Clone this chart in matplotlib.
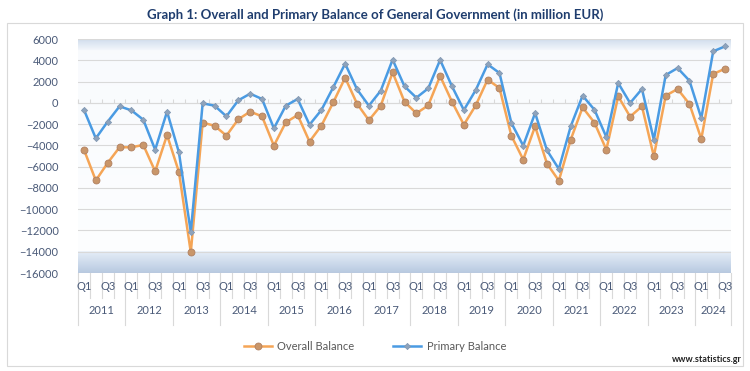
import numpy as np
import matplotlib
matplotlib.use("Agg")
import matplotlib.pyplot as plt
from matplotlib.lines import Line2D
from matplotlib.patches import Rectangle
import matplotlib.transforms as mtransforms

years = ["2011", "2012", "2013", "2014", "2015", "2016", "2017",
         "2018", "2019", "2020", "2021", "2022", "2023", "2024"]
quarters_per_year = [4, 4, 4, 4, 4, 4, 4, 4, 4, 4, 4, 4, 4, 3]
quarter_labels = ["Q1", "", "Q3", ""]

overall = [-4400, -7300, -5650, -4180, -4180, -3960, -6450, -3030,
           -6500, -14050, -1870, -2150, -3090, -1550, -830, -1270,
           -4030, -1840, -1150, -3650, -2150, 40, 2360, -80,
           -1640, -270, 2860, 100, -990, -240, 2520, 100,
           -2060, -240, 2180, 1390, -3090, -5340, -2210, -5720,
           -7320, -3460, -430, -1870, -4410, 610, -1300, -330,
           -5030, 670, 1300, -110, -3390, 2710, 3210]
primary = [-650, -3340, -1770, -330, -710, -1590, -4410, -830,
           -4660, -12150, -50, -270, -1270, 230, 860, 360,
           -2400, -270, 360, -2060, -680, 1460, 3680, 1270,
           -270, 1140, 4060, 1550, 480, 1360, 4030, 1550,
           -680, 1200, 3620, 2800, -1890, -4030, -960, -4460,
           -6220, -2210, 670, -650, -3220, 1860, -20, 1300,
           -3470, 2610, 3270, 2080, -1440, 4840, 5310]

W, H = 750, 371
fig = plt.figure(figsize=(W / 100, H / 100), dpi=100)
plt.rcParams['font.family'] = ['Lato', 'DejaVu Sans']

# outer frame
fig.patches.append(Rectangle((7 / W, 1 - 366 / H), 736 / W, 343 / H,
                             transform=fig.transFigure, fill=False,
                             edgecolor="#D9D9D9", linewidth=0.8))

L, R, T, B = 78, 731, 39, 273
ax = fig.add_axes([L / W, 1 - B / H, (R - L) / W, (B - T) / H])

n = len(overall)
x = np.arange(n)
ax.set_xlim(-0.5, n - 0.5)
ax.set_ylim(-16000, 6000)

# background gradient (wall)
ys = np.linspace(0, 1, 400)
def lerp(c1, c2, t):
    return np.array(c1) * (1 - t) + np.array(c2) * t
base = np.array([0.975, 0.982, 0.992])
img = np.zeros((400, 2, 3))
for i, yy in enumerate(ys):
    if yy < 2 / 22:
        t = yy / (2 / 22)
        c = lerp([0.72, 0.79, 0.88], [0.90, 0.93, 0.97], t)
    elif yy > 21 / 22:
        t = (yy - 21 / 22) / (1 / 22)
        c = lerp([0.95, 0.965, 0.985], [0.82, 0.87, 0.93], t)
    else:
        t = (yy - 2 / 22) / (19 / 22)
        c = lerp([0.99, 0.995, 1.0], base, t)
    img[i, :, :] = c
ax.imshow(img, extent=[0, 1, 0, 1], transform=ax.transAxes, origin="lower",
          aspect="auto", zorder=0, interpolation="bilinear")

ax.set_yticks(np.arange(-16000, 6001, 2000))
ax.yaxis.grid(True, color="#D9D9D9", linewidth=0.8, zorder=1)
ax.set_axisbelow(True)
ax.tick_params(axis="y", length=0, pad=14, labelsize=8, labelcolor="#4A5A78")
for s in ["left", "right", "top"]:
    ax.spines[s].set_visible(False)
ax.spines["bottom"].set_position(("data", 0))
ax.spines["bottom"].set_color("#D9D9D9")
ax.spines["bottom"].set_linewidth(0.8)
ax.set_xticks(np.arange(-0.5, n, 1.0))
ax.set_xticklabels([])
ax.tick_params(axis="x", direction="in", length=3, color="#D9D9D9", width=0.8)

ax.plot(x, overall, color="#F5A556", linewidth=1.8, marker="o", markersize=5,
        markerfacecolor="#C9966A", markeredgecolor="#B08060", markeredgewidth=0.6,
        zorder=3)
ax.plot(x, primary, color="#4A9BE3", linewidth=1.8, marker="D", markersize=3.2,
        markerfacecolor="#8EA3BC", markeredgecolor="#7F95B0", markeredgewidth=0.5,
        zorder=4)

# category axis labels (two levels)
trans = mtransforms.blended_transform_factory(ax.transData, ax.transAxes)
axh = B - T
def yfrac(py):
    return (B - py) / axh

idx = 0
for yr, nq in zip(years, quarters_per_year):
    for q in range(nq):
        lab = quarter_labels[q]
        if lab:
            ax.text(idx + q, yfrac(287), lab, transform=trans, ha="center",
                    va="center", fontsize=8, color="#4A5A78", clip_on=False)
    ax.text(idx + (nq - 1) / 2, yfrac(311), yr, transform=trans, ha="center",
            va="center", fontsize=8, color="#4A5A78", clip_on=False)
    for q in range(nq):
        b = idx + q - 0.5
        bottom = yfrac(325) if q == 0 else yfrac(298)
        ax.plot([b, b], [0, bottom], transform=trans, color="#D9D9D9",
                linewidth=0.8, clip_on=False)
    idx += nq
ax.plot([n - 0.5, n - 0.5], [0, yfrac(325)], transform=trans, color="#D9D9D9",
        linewidth=0.8, clip_on=False)

fig.text(0.5, 1 - 15 / H,
         "Graph 1: Overall and Primary Balance of General Government (in million EUR)",
         ha="center", va="center", fontsize=9.5, fontweight="bold", color="#1F3D6E")

handles = [
    Line2D([], [], color="#F5A556", linewidth=1.8, marker="o", markersize=5,
           markerfacecolor="#C9966A", markeredgecolor="#B08060", markeredgewidth=0.6),
    Line2D([], [], color="#4A9BE3", linewidth=1.8, marker="D", markersize=3.2,
           markerfacecolor="#8EA3BC", markeredgecolor="#7F95B0", markeredgewidth=0.5),
]
leg = fig.legend(handles, ["Overall Balance", "Primary Balance"], loc="center",
                 bbox_to_anchor=(0.5, 1 - 346 / H), ncol=2, frameon=False,
                 fontsize=8, handlelength=2.5, columnspacing=3.5, handletextpad=0.5)
for t in leg.get_texts():
    t.set_color("#595959")

fig.text(742 / W, 1 - 360 / H, "www.statistics.gr", ha="right", va="center",
         fontsize=6.5, fontweight="bold", color="#222222")

fig.savefig("out.png", dpi=100)
